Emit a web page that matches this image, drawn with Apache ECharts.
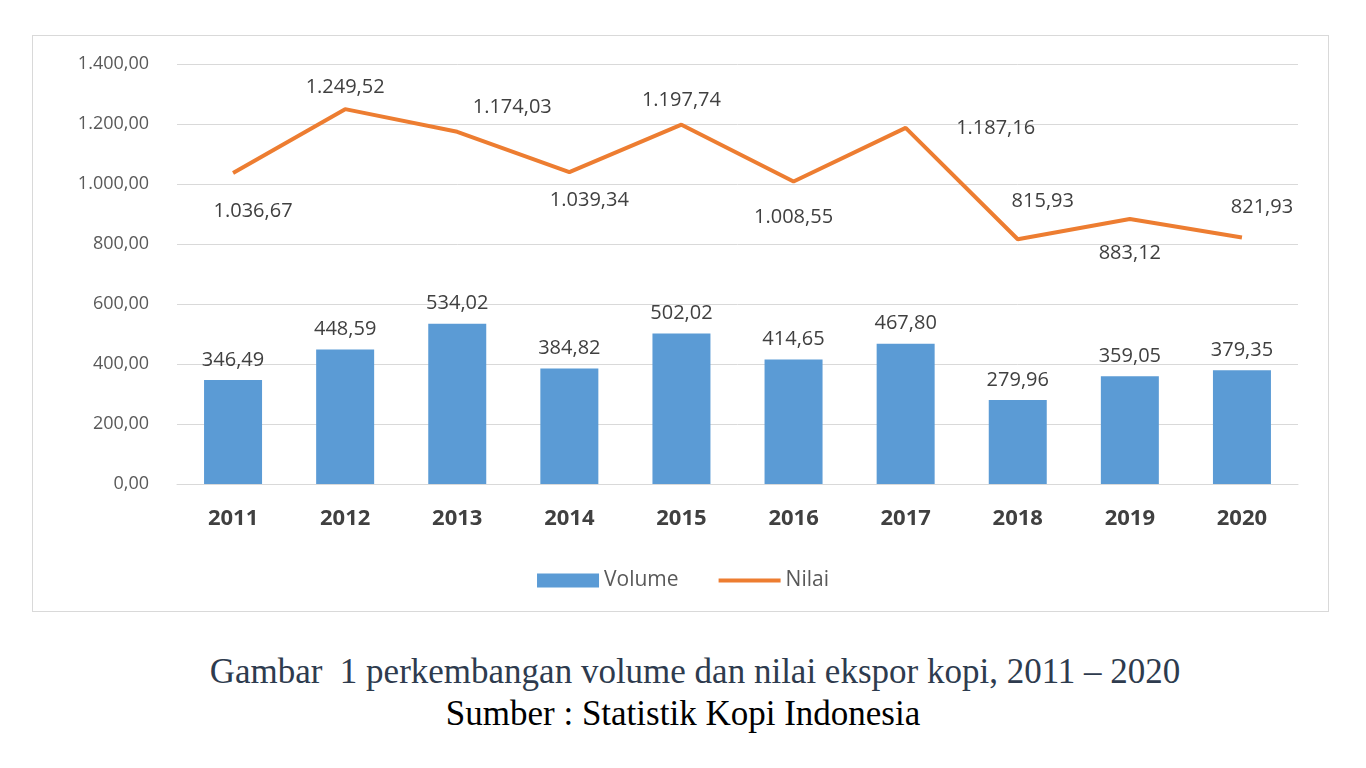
<!DOCTYPE html>
<html><head><meta charset="utf-8">
<script src="https://cdn.jsdelivr.net/npm/echarts@6/dist/echarts.min.js"></script>
<style>
body{margin:0;background:#fff;width:1366px;height:768px;overflow:hidden;position:relative}
#box{position:absolute;left:32px;top:35px;width:1297px;height:577px;border:1px solid #d9d9d9;box-sizing:border-box}
#c{position:absolute;left:0;top:0;width:1366px;height:640px}
.cap{position:absolute;left:0;width:1390px;text-align:center;font-family:'Liberation Serif','DejaVu Serif',serif;font-size:35px}
</style></head><body>
<div id="box"></div>
<div id="c"></div>
<div class="cap" style="top:652px;color:#2e3b4e">Gambar&nbsp; 1 perkembangan volume dan nilai ekspor kopi, 2011 – 2020</div>
<div class="cap" style="top:694px;color:#000;width:1366px">Sumber : Statistik Kopi Indonesia</div>
<script>
const years=['2011','2012','2013','2014','2015','2016','2017','2018','2019','2020'];
const volume=[346.49,448.59,534.02,384.82,502.02,414.65,467.80,279.96,359.05,379.35];
const nilai=[1036.67,1249.52,1174.03,1039.34,1197.74,1008.55,1187.16,815.93,883.12,821.93];
const labelOffsets=[[20,38],[0,-22],[55,-24],[20,28],[0,-24],[0,36],[90,0],[25,-38],[0,34],[20,-30]];
function fmt(v){let [i,d]=v.toFixed(2).split('.');i=i.replace(/\B(?=(\d{3})+(?!\d))/g,'.');return i+','+d;}
const lab={fontFamily:'Open Sans',fontSize:20,color:'#404040'};
const ch=echarts.init(document.getElementById('c'));
ch.setOption({
animation:false,
grid:{left:177,right:68,top:64,bottom:156},
legend:{bottom:44,left:'center',itemWidth:62,itemHeight:14,itemGap:40,textStyle:{fontFamily:'Open Sans',fontSize:21,color:'#595959'},
 data:[{name:'Volume',icon:'rect'},{name:'Nilai',icon:'path://M0,5L62,5L62,9L0,9Z'}]},
xAxis:{type:'category',data:years,axisTick:{show:false},axisLine:{lineStyle:{color:'#d9d9d9'}},
 axisLabel:{fontFamily:'Open Sans',fontWeight:'bold',fontSize:22,color:'#404040',margin:24}},
yAxis:{type:'value',min:0,max:1400,interval:200,axisLabel:{formatter:fmt,fontFamily:'Open Sans',fontSize:18,color:'#595959',margin:28},
 splitLine:{lineStyle:{color:'#d9d9d9'}}},
series:[
{name:'Volume',type:'bar',data:volume,barWidth:58,itemStyle:{color:'#5b9bd5'},
 label:{show:true,position:'top',distance:10,formatter:p=>fmt(p.value),...lab}},
{name:'Nilai',type:'line',data:nilai.map((v,i)=>({value:v,label:{offset:labelOffsets[i]}})),symbol:'circle',symbolSize:0,showSymbol:true,
 lineStyle:{color:'#ed7d31',width:4},itemStyle:{color:'#ed7d31'},
 label:{show:true,position:'inside',formatter:p=>fmt(p.value),...lab}}
]});
</script></body></html>
